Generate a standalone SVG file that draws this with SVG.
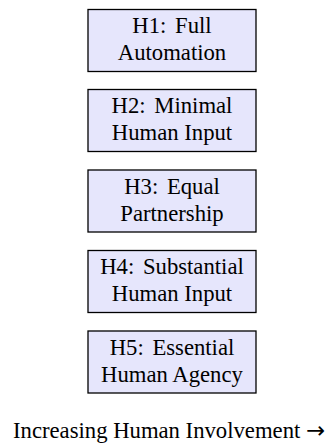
<svg xmlns="http://www.w3.org/2000/svg" width="332" height="448" viewBox="0 0 332 448">
<style>
.box{fill:#e6e6fc;stroke:#000;stroke-width:1.3}
.t{font-family:"Liberation Serif","Times New Roman",serif;font-size:22.7px;fill:#000;text-anchor:middle}
.arr{font-family:"DejaVu Sans",sans-serif}
</style>
<rect width="332" height="448" fill="#fff"/>
<g id="h1"><rect class="box" x="88" y="9.5" width="168" height="62"/><text class="t" x="172" y="33">H1: <tspan dx="3">Full</tspan></text><text class="t" x="172" y="60">Automation</text></g>
<g id="h2"><rect class="box" x="88" y="89.5" width="168" height="62"/><text class="t" x="172" y="113">H2: <tspan dx="3">Minimal</tspan></text><text class="t" x="172" y="140">Human Input</text></g>
<g id="h3"><rect class="box" x="88" y="170" width="168" height="62"/><text class="t" x="172" y="193.5">H3: <tspan dx="3">Equal</tspan></text><text class="t" x="172" y="220.5">Partnership</text></g>
<g id="h4"><rect class="box" x="88" y="250.5" width="168" height="62"/><text class="t" x="172" y="274">H4: <tspan dx="3">Substantial</tspan></text><text class="t" x="172" y="301">Human Input</text></g>
<g id="h5"><rect class="box" x="88" y="331" width="168" height="62"/><text class="t" x="172" y="354.5">H5: <tspan dx="3">Essential</tspan></text><text class="t" x="172" y="381.5">Human Agency</text></g>
<g id="connectors"></g>
<text class="t" x="169" y="438">Increasing Human Involvement <tspan class="arr">→</tspan></text>
</svg>
